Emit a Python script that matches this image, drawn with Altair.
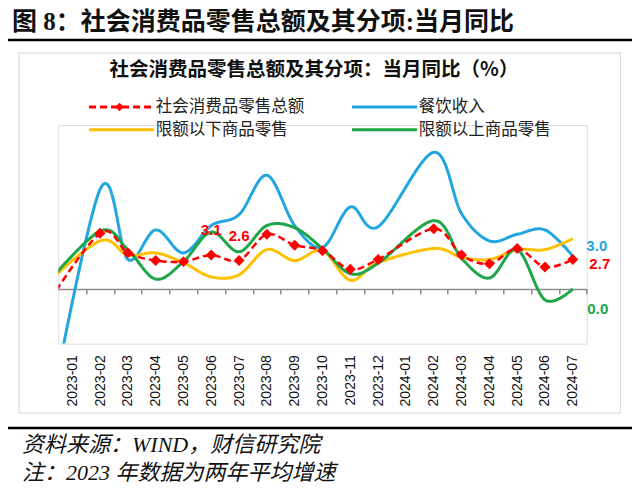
import altair as alt
import pandas as pd

# ---------------- data ----------------
periods = ["2022-12", "2023-01", "2023-02", "2023-03", "2023-04", "2023-05", "2023-06",
           "2023-07", "2023-08", "2023-09", "2023-10", "2023-11", "2023-12",
           "2024-01", "2024-02", "2024-03", "2024-04", "2024-05", "2024-06", "2024-07"]
month_labels = periods[1:]  # axis shows 2023-01 .. 2024-07

series_names = ["社会消费品零售总额", "餐饮收入", "限额以下商品零售", "限额以上商品零售"]
series_colors = ["#FF0000", "#21A6E0", "#FFC000", "#1DA548"]

total_retail = [-1.8, None, 5.1, 3.3, 2.6, 2.5, 3.1, 2.6, 5.0, 4.0, 3.5, 1.8, 2.7,
                None, 5.5, 3.1, 2.3, 3.7, 2.0, 2.7]
catering = [-14.1, None, 9.1, 2.7, 5.4, 3.3, 5.8, 6.8, 10.4, 5.8, 3.8, 7.5, 5.7,
            None, 12.5, 6.9, 4.4, 5.0, 5.4, 3.0]
below_quota = [0.3, None, 4.4, 3.1, 3.3, 2.4, 1.1, 1.3, 3.6, 2.6, 3.5, 0.8, 2.4,
               None, 3.7, 2.9, 2.7, 3.6, 3.6, 4.6]
above_quota = [0.2, None, 5.3, 3.6, 0.9, 2.5, 5.2, 3.4, 5.8, 5.6, 3.7, 1.4, 2.35,
               None, 6.25, 2.8, 1.0, 3.6, -1.0, 0.0]

all_series = [total_retail, catering, below_quota, above_quota]

rows = []
for name, vals in zip(series_names, all_series):
    for i, v in enumerate(vals):
        rows.append({"idx": i - 1, "period": periods[i], "series": name, "value": v})
df = pd.DataFrame(rows)

# ---------------- layout ----------------
W, H = 528.4, 218.6
Y_MIN, Y_MAX = -5, 15
zero_offset = -H * (0 - Y_MIN) / (Y_MAX - Y_MIN)

CJK = "Noto Sans CJK SC"
SERIF_CJK = "Liberation Serif, Noto Sans CJK SC"
LAT = "Liberation Sans"

xscale = alt.Scale(domain=[-0.5, len(month_labels) - 0.5], nice=False, zero=False)
yscale = alt.Scale(domain=[Y_MIN, Y_MAX], nice=False, zero=False)
color_scale = alt.Scale(domain=series_names, range=series_colors)
dash_scale = alt.Scale(domain=series_names, range=[[7, 4], [1, 0], [1, 0], [1, 0]])

legend = alt.Legend(
    title=None, orient="none", legendX=55, legendY=-26.5, columns=2, direction="horizontal",
    symbolType="M-5,0L5,0", symbolSize=169, symbolStrokeWidth=3,
    labelFont=CJK, labelFontSize=16.5, labelColor="#222222", labelOffset=26,
    columnPadding=41, rowPadding=6, labelLimit=300,
)

label_expr = "[" + ",".join("'%s'" % m for m in month_labels) + "][datum.value]"

zero_axis = alt.Axis(
    orient="bottom", offset=zero_offset, labels=False, title=None, grid=False,
    values=[i + 0.5 for i in range(len(month_labels))],
    domainColor="#8C8C8C", domainWidth=1.5, tickColor="#8C8C8C", tickWidth=1.5, tickSize=5,
)
label_axis = alt.Axis(
    orient="bottom", title=None, grid=False, domain=False, ticks=False,
    values=list(range(len(month_labels))), labelExpr=label_expr, labelAngle=-90,
    labelFont=LAT, labelFontSize=14, labelColor="#111111", labelPadding=11,
)
y_axis = alt.Axis(
    title=None, grid=False, values=[-5, 0, 5, 10, 15], domainColor="#8C8C8C",
    domainWidth=1.5, tickColor="#8C8C8C", tickWidth=1.5, tickSize=4,
    labelFont=LAT, labelFontSize=13, labelColor="#111111", labelPadding=17,
)

base = alt.Chart(df)
one = alt.Data(values=[{}])

# decorations
frame = alt.Chart(one).mark_rect(fill=None, stroke="#D4D4D4", strokeWidth=1).encode(
    x=alt.value(-39.3), x2=alt.value(562), y=alt.value(-72), y2=alt.value(288))
top_rule = alt.Chart(one).mark_rule(color="black", strokeWidth=2.5).encode(
    x=alt.value(-52.3), x2=alt.value(575), y=alt.value(-85))
bottom_rule = alt.Chart(one).mark_rule(color="black", strokeWidth=2.5).encode(
    x=alt.value(-52.3), x2=alt.value(575), y=alt.value(303))
fig_title = alt.Chart(one).mark_text(
    align="left", baseline="middle", font=SERIF_CJK, fontSize=25, fontWeight="bold",
    color="#111111").encode(
    x=alt.value(-46.3), y=alt.value(-103),
    text=alt.value("图 8：社会消费品零售总额及其分项:当月同比"))
chart_title = alt.Chart(one).mark_text(
    align="center", baseline="middle", font=CJK, fontSize=19.5, fontWeight="bold",
    color="#111111").encode(
    x=alt.value(255.7), y=alt.value(-55),
    text=alt.value("社会消费品零售总额及其分项：当月同比（%）"))
foot1 = alt.Chart(one).mark_text(
    align="left", baseline="middle", font=SERIF_CJK, fontSize=22, fontStyle="italic",
    color="#111111").encode(
    x=alt.value(-36.3), y=alt.value(320), text=alt.value("资料来源：WIND，财信研究院"))
foot2 = alt.Chart(one).mark_text(
    align="left", baseline="middle", font=SERIF_CJK, fontSize=22, fontStyle="italic",
    color="#111111").encode(
    x=alt.value(-36.3), y=alt.value(348), text=alt.value("注：2023 年数据为两年平均增速"))
legend_diamond = alt.Chart(one).mark_point(
    shape="diamond", filled=True, color="#FF0000", size=70, opacity=1).encode(
    x=alt.value(61.2), y=alt.value(-18))

enc_common = dict(
    y=alt.Y("value:Q", scale=yscale, axis=y_axis),
    color=alt.Color("series:N", scale=color_scale, legend=legend),
    strokeDash=alt.StrokeDash("series:N", scale=dash_scale, legend=legend),
)

solid_lines = base.transform_filter(
    "isValid(datum.value) && datum.series != '社会消费品零售总额'"
).mark_line(interpolate="cardinal", strokeWidth=3, clip=True).encode(
    x=alt.X("idx:Q", scale=xscale, axis=zero_axis),
    detail="series:N",
    **enc_common,
)

red_line = base.transform_filter(
    "isValid(datum.value) && datum.series == '社会消费品零售总额'"
).mark_line(interpolate="cardinal", strokeWidth=2.5, clip=True).encode(
    x=alt.X("idx:Q", scale=xscale, axis=None),
    **enc_common,
)

diamonds = base.transform_filter(
    "isValid(datum.value) && datum.series == '社会消费品零售总额' && datum.idx >= 0"
).mark_point(shape="diamond", filled=True, size=120, color="#FF0000", opacity=1).encode(
    x=alt.X("idx:Q", scale=xscale, axis=label_axis),
    y=alt.Y("value:Q", scale=yscale, axis=None),
)


def value_label(series, idxs, color, dx, dy):
    cond = "datum.series == '%s' && indexof(%s, datum.idx) >= 0" % (series, str(idxs))
    return base.transform_filter(cond).mark_text(
        font=LAT, fontSize=15, fontWeight="bold", color=color, dx=dx, dy=dy,
        align="center", baseline="middle").encode(
        x=alt.X("idx:Q", scale=xscale, axis=None),
        y=alt.Y("value:Q", scale=yscale, axis=None),
        text=alt.Text("value:Q", format=".1f"),
    )


lab_red_mid = value_label("社会消费品零售总额", [5, 6], "#FF0000", 0, -25)
lab_red_end = value_label("社会消费品零售总额", [18], "#FF0000", 27, 5)
lab_blue_end = value_label("餐饮收入", [18], "#21A6E0", 24, -10)
lab_green_end = value_label("限额以上商品零售", [18], "#1DA548", 25, 20)

chart = alt.layer(
    frame, top_rule, bottom_rule, fig_title, chart_title, foot1, foot2,
    solid_lines, red_line, diamonds, legend_diamond,
    lab_red_mid, lab_red_end, lab_blue_end, lab_green_end,
).resolve_axis(x="independent").properties(
    width=W, height=H,
    autosize=alt.AutoSizeParams(type="none"),
    padding={"left": 50.3, "top": 117, "right": 45.3, "bottom": 141.4},
).configure_view(stroke=None).configure(background="white")

chart.save("out.html", embed_options={"renderer": "svg", "actions": False})
